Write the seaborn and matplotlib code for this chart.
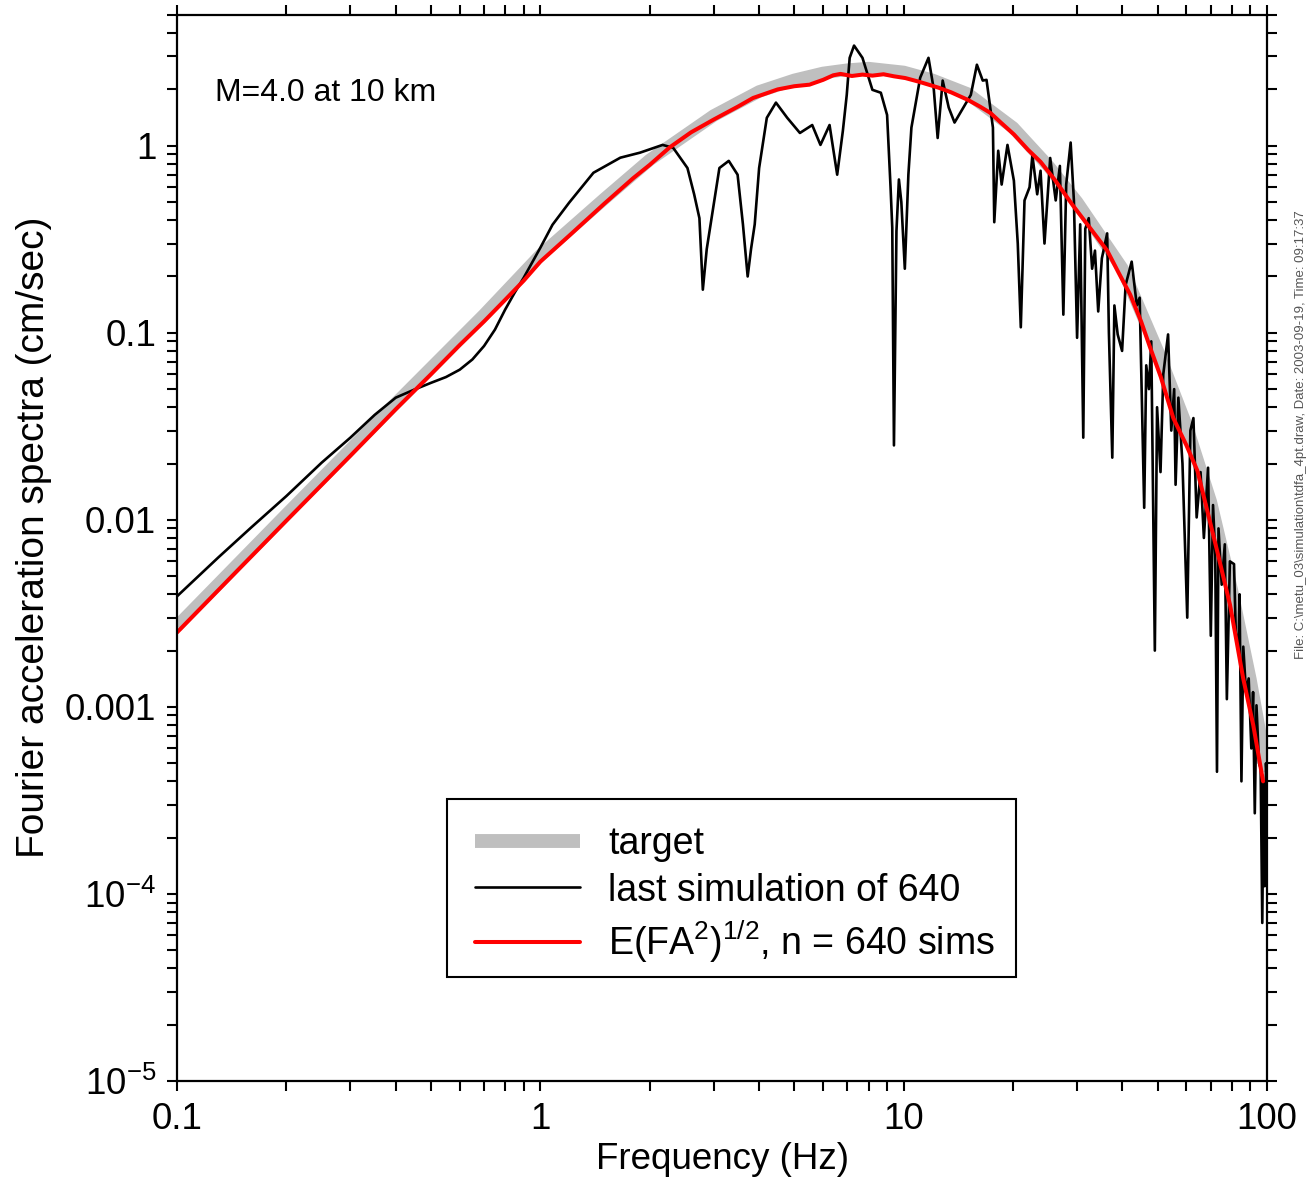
import numpy as np
import pandas as pd
import matplotlib
matplotlib.use("Agg")
import matplotlib.pyplot as plt
import matplotlib.ticker as mticker
from matplotlib.lines import Line2D
from matplotlib.patches import Rectangle
import seaborn as sns

# ---------------- data ----------------
freq_target = [0.1, 0.2, 0.4, 0.7, 1.0, 1.5, 2.0, 3.0, 4.0, 5.0, 6.0, 7.0, 8.0, 10.0,
               12.0, 15.0, 20.0, 25.0, 30.0, 40.0, 50.0, 60.0, 70.0, 80.0, 90.0, 100.0]
amp_target = [0.0027, 0.0107, 0.042, 0.125, 0.26, 0.52, 0.84, 1.45, 1.95, 2.25, 2.45, 2.55,
              2.6, 2.48, 2.25, 1.9, 1.25, 0.78, 0.5, 0.22, 0.08, 0.032, 0.0125, 0.0042,
              0.0014, 0.00045]

freq_mean = [0.1, 0.15, 0.2, 0.3, 0.4, 0.5, 0.6, 0.7, 0.8, 0.9, 1.0, 1.2, 1.5, 1.8, 2.0,
             2.27, 2.6, 3.0, 3.5, 3.85, 4.5, 5.0, 5.5, 6.0, 6.4, 6.7, 7.2, 7.7, 8.2, 8.8,
             9.4, 10.1, 11.0, 12.5, 13.5, 15.0, 16.2, 17.3, 18.5, 20.1, 22.0, 23.8, 26.0,
             29.2, 32.0, 36.3, 39.0, 42.0, 45.0, 47.7, 51.0, 55.2, 60.0, 64.3, 68.0, 72.9,
             79.1, 85.9, 91.6, 97.5]
amp_mean = [0.0025, 0.0056, 0.0099, 0.022, 0.039, 0.060, 0.086, 0.115, 0.15, 0.19, 0.24,
            0.33, 0.49, 0.67, 0.79, 0.98, 1.18, 1.38, 1.62, 1.8, 2.0, 2.08, 2.12, 2.25, 2.38,
            2.42, 2.36, 2.40, 2.37, 2.41, 2.35, 2.3, 2.2, 2.04, 1.93, 1.76, 1.62, 1.5, 1.33,
            1.15, 0.95, 0.82, 0.66, 0.48, 0.38, 0.275, 0.21, 0.16, 0.115, 0.083, 0.058,
            0.035, 0.025, 0.0183, 0.0118, 0.0068, 0.0035, 0.00143, 0.0008, 0.0004]

freq_sim = [0.1, 0.13, 0.16, 0.2, 0.25, 0.3, 0.35, 0.4, 0.45, 0.5, 0.55, 0.6, 0.65, 0.7,
            0.75, 0.8, 0.85, 0.9, 1.0, 1.08, 1.2, 1.4, 1.66, 1.88, 2.17, 2.32, 2.54, 2.65,
            2.74, 2.8, 2.87, 2.96, 3.11, 3.3, 3.49, 3.61, 3.72, 3.8, 3.89, 4.0, 4.2, 4.45,
            4.78, 5.18, 5.6, 5.9, 6.25, 6.56, 6.8, 6.97, 7.1, 7.3, 7.7, 8.2, 8.65, 9.0,
            9.2, 9.3, 9.4, 9.55, 9.7, 9.85, 10.07, 10.3, 10.5, 11.1, 11.7, 12.1, 12.4,
            12.8, 13.3, 13.8, 14.6, 15.3, 15.9, 16.5, 16.9, 17.6, 17.75, 18.2, 18.6, 19.3,
            20.1, 20.6, 21.0, 21.5, 22.2, 22.6, 23.3, 23.8, 24.4, 25.3, 26.2, 26.9, 27.5,
            28.0, 28.8, 29.4, 30.0, 30.6, 31.2, 31.6, 32.3, 33.0, 33.6, 34.3, 35.1, 36.3,
            36.7, 37.5, 38.0, 38.8, 39.9, 40.8, 42.4, 43.8, 44.6, 45.9, 46.5, 47.3, 48.0,
            49.1, 49.8, 50.9, 51.8, 53.4, 54.5, 55.5, 56.0, 57.0, 58.5, 60.3, 61.5, 62.7,
            64.0, 65.6, 67.0, 68.8, 70.0, 71.0, 72.0, 72.8, 73.5, 75.0, 76.5, 77.5, 79.0,
            81.1, 82.0, 83.4, 84.0, 85.0, 86.0, 87.5, 89.0, 90.5, 91.5, 92.5, 93.5, 95.0,
            96.0, 97.0, 97.8, 98.5, 99.3, 100.0]
amp_sim = [0.0039, 0.0063, 0.0091, 0.0134, 0.0202, 0.0275, 0.0364, 0.045, 0.0497, 0.054,
           0.058, 0.0635, 0.072, 0.085, 0.104, 0.133, 0.164, 0.197, 0.285, 0.378, 0.496,
           0.717, 0.863, 0.918, 1.01, 0.975, 0.76, 0.55, 0.41, 0.17, 0.28, 0.41, 0.76, 0.83,
           0.70, 0.38, 0.20, 0.28, 0.38, 0.76, 1.41, 1.70, 1.41, 1.17, 1.29, 1.01, 1.29,
           0.70, 1.2, 1.87, 2.95, 3.43, 2.95, 1.99, 1.92, 1.46, 0.6, 0.364, 0.025, 0.35,
           0.66, 0.5, 0.22, 0.7, 1.25, 2.31, 2.95, 2.0, 1.10, 2.23, 1.6, 1.33, 1.6, 1.87,
           2.71, 2.23, 2.25, 1.25, 0.39, 0.94, 0.62, 1.01, 0.65, 0.3, 0.107, 0.51, 0.60,
           0.89, 0.55, 0.735, 0.30, 0.86, 0.51, 0.78, 0.125, 0.62, 1.04, 0.51, 0.094, 0.38,
           0.0275, 0.36, 0.41, 0.22, 0.275, 0.13, 0.25, 0.34, 0.10, 0.0215, 0.14, 0.098,
           0.08, 0.18, 0.24, 0.14, 0.154, 0.0116, 0.067, 0.05, 0.09, 0.002, 0.04, 0.018,
           0.06, 0.098, 0.03, 0.05, 0.0154, 0.045, 0.02, 0.003, 0.03, 0.035, 0.0103, 0.018,
           0.008, 0.019, 0.0024, 0.012, 0.0065, 0.00045, 0.009, 0.0045, 0.0074, 0.0011,
           0.006, 0.0058, 0.0025, 0.002, 0.004, 0.0004, 0.0021, 0.0012, 0.00142, 0.0006,
           0.0012, 0.00027, 0.00102, 0.0005, 0.00047, 0.00007, 0.0004, 0.00011, 0.0005,
           0.0004]

legend_labels = ["target", "last simulation of 640", r"E(FA$^2$)$^{1/2}$, n = 640 sims"]
x_tick_values = [0.1, 1, 10, 100]
x_tick_labels = ["0.1", "1", "10", "100"]
y_tick_values = [1e-5, 1e-4, 1e-3, 1e-2, 1e-1, 1]
y_tick_labels = [r"10$^{-5}$", r"10$^{-4}$", "0.001", "0.01", "0.1", "1"]

# ---------------- style ----------------
sns.set_theme(style="ticks")
plt.rcParams["font.family"] = ["Liberation Sans", "DejaVu Sans"]
plt.rcParams["mathtext.fontset"] = "custom"
plt.rcParams["mathtext.rm"] = "Liberation Sans"
plt.rcParams["mathtext.it"] = "Liberation Sans:italic"
plt.rcParams["mathtext.bf"] = "Liberation Sans:bold"
for key in ["text.color", "axes.labelcolor", "xtick.color", "ytick.color",
            "axes.edgecolor"]:
    plt.rcParams[key] = "black"

fig = plt.figure(figsize=(13.11, 11.79), dpi=100)
ax = fig.add_axes([0.135, 0.0831, 0.8315, 0.9042])

df_t = pd.DataFrame({"f": freq_target, "a": amp_target})
df_s = pd.DataFrame({"f": freq_sim, "a": amp_sim})
df_m = pd.DataFrame({"f": freq_mean, "a": amp_mean})

sns.lineplot(data=df_t, x="f", y="a", ax=ax, color="#bfbfbf", linewidth=9,
             estimator=None, sort=False, solid_capstyle="butt")
sns.lineplot(data=df_s, x="f", y="a", ax=ax, color="black", linewidth=1.9,
             estimator=None, sort=False, solid_joinstyle="round")
sns.lineplot(data=df_m, x="f", y="a", ax=ax, color="#ff0000", linewidth=2.9,
             estimator=None, sort=False)

ax.set_xscale("log")
ax.set_yscale("log")
ax.set_xlim(0.1, 100)
ax.set_ylim(1e-5, 5)

ax.xaxis.set_major_locator(mticker.FixedLocator(x_tick_values))
ax.xaxis.set_major_formatter(mticker.FixedFormatter(x_tick_labels))
ax.xaxis.set_minor_locator(mticker.LogLocator(base=10, subs=np.arange(2, 10)))
ax.xaxis.set_minor_formatter(mticker.NullFormatter())
ax.yaxis.set_major_locator(mticker.FixedLocator(y_tick_values))
ax.yaxis.set_major_formatter(mticker.FixedFormatter(y_tick_labels))
ax.yaxis.set_minor_locator(mticker.LogLocator(base=10, subs=np.arange(2, 10), numticks=20))
ax.yaxis.set_minor_formatter(mticker.NullFormatter())

ax.tick_params(which="both", direction="out", top=True, right=True,
               labeltop=False, labelright=False, length=7, width=1.5, color="black")
ax.tick_params(which="major", labelsize=26.5, pad=8, labelcolor="black")
for s in ax.spines.values():
    s.set_linewidth(1.6)
    s.set_color("black")
    s.set_visible(True)

ax.set_xlabel("Frequency (Hz)", fontsize=26.5, labelpad=4, color="black")
ax.set_ylabel("Fourier acceleration spectra (cm/sec)", fontsize=28, color="black")
ax.yaxis.set_label_coords(-0.1147, 0.51)

ax.text(0.035, 0.927, "M=4.0 at 10 km", transform=ax.transAxes, fontsize=23,
        ha="left", va="center", color="black")

# legend box drawn separately
box = Rectangle((0.2477, 0.0976), 0.522, 0.1669, transform=ax.transAxes,
                facecolor="white", edgecolor="black", linewidth=1.5, zorder=4)
ax.add_patch(box)

handles = [Line2D([], [], color="#bfbfbf", linewidth=10, solid_capstyle="butt"),
           Line2D([], [], color="black", linewidth=1.9),
           Line2D([], [], color="#ff0000", linewidth=2.9)]
leg = ax.legend(handles, legend_labels, loc="upper left",
                bbox_to_anchor=(0.2734, 0.2392), fontsize=27, frameon=False,
                handlelength=2.8, handletextpad=0.75, labelspacing=0.28,
                borderpad=0, borderaxespad=0)
leg.set_zorder(5)
for t in leg.get_texts():
    t.set_color("black")

fig.text(0.992, 0.631,
         r"File: C:\metu_03\simulation\tdfa_4pt.draw, Date: 2003-09-19, Time: 09:17:37",
         rotation=90, ha="center", va="center", fontsize=9.5, color="#555555")

fig.savefig("out.png", dpi=100)
